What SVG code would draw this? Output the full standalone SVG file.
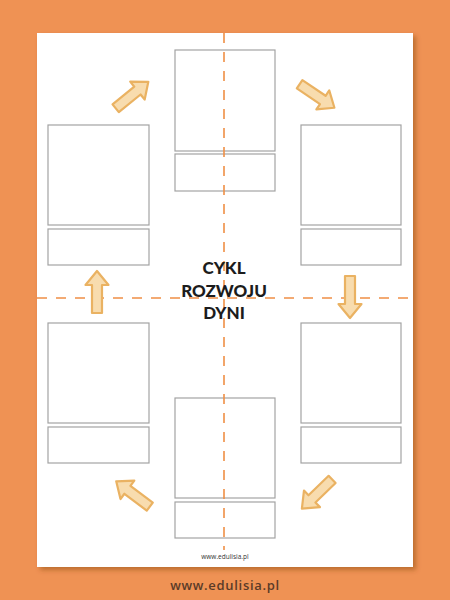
<svg xmlns="http://www.w3.org/2000/svg" width="450" height="600" viewBox="0 0 450 600">
  <defs>
    <filter id="sh" x="-10%" y="-10%" width="120%" height="120%">
      <feDropShadow dx="3" dy="3" stdDeviation="2.5" flood-color="#7a3f10" flood-opacity="0.45"/>
    </filter>
    <path id="arr" d="M0,-21 L11.5,-7 L5,-7 L5,21 L-5,21 L-5,-7 L-11.5,-7 Z"/>
  </defs>
  <style>
    .box{fill:#ffffff;stroke:#a3a3a3;stroke-width:1.2}
    .cut{fill:none;stroke:#ef8f45;stroke-width:1.6;stroke-dasharray:10 9}
    .arrow{fill:#f8dcae;stroke:#eab262;stroke-width:2.2;stroke-linejoin:round}
    .title{font-family:Lato,"Open Sans",sans-serif;font-weight:900;font-size:17px;fill:#1c1c1c;text-anchor:middle}
    .url{font-family:"Open Sans","Liberation Sans",sans-serif;text-anchor:middle}
  </style>
  <rect width="450" height="600" fill="#ef9254"/>
  <rect x="37" y="33" width="376" height="534" fill="#ffffff" filter="url(#sh)"/>

  <g id="step-top">
    <rect class="box" x="175" y="50" width="100" height="101"/>
    <rect class="box" x="175" y="154" width="100" height="37"/>
  </g>
  <g id="step-top-right">
    <rect class="box" x="301" y="125" width="100" height="100"/>
    <rect class="box" x="301" y="229" width="100" height="36"/>
  </g>
  <g id="step-bottom-right">
    <rect class="box" x="301" y="323" width="100" height="100"/>
    <rect class="box" x="301" y="427" width="100" height="36"/>
  </g>
  <g id="step-bottom">
    <rect class="box" x="175" y="398" width="100" height="100"/>
    <rect class="box" x="175" y="502" width="100" height="36"/>
  </g>
  <g id="step-bottom-left">
    <rect class="box" x="48" y="323" width="101" height="100"/>
    <rect class="box" x="48" y="427" width="101" height="36"/>
  </g>
  <g id="step-top-left">
    <rect class="box" x="48" y="125" width="101" height="100"/>
    <rect class="box" x="48" y="229" width="101" height="36"/>
  </g>

  <g id="cut-lines">
    <line class="cut" x1="224" y1="33" x2="224" y2="550"/>
    <line class="cut" x1="37" y1="298" x2="413" y2="298"/>
  </g>

  <g id="connectors">
    <use href="#arr" class="arrow" transform="translate(132,95) rotate(51)"/>
    <use href="#arr" class="arrow" transform="translate(317,96) rotate(124)"/>
    <use href="#arr" class="arrow" transform="translate(350,297) rotate(180)"/>
    <use href="#arr" class="arrow" transform="translate(317,494) rotate(-134)"/>
    <use href="#arr" class="arrow" transform="translate(133,494) rotate(-53)"/>
    <use href="#arr" class="arrow" transform="translate(97,292)"/>
  </g>

  <g id="title">
    <text class="title" x="224" y="274">CYKL</text>
    <text class="title" x="224" y="297">ROZWOJU</text>
    <text class="title" x="224" y="319">DYNI</text>
  </g>

  <text class="url" x="225" y="559" font-size="6.5" fill="#333333">www.edulisia.pl</text>
  <text class="url" x="225" y="590" font-size="13" font-weight="600" letter-spacing="0.7" fill="#5b3b28">www.edulisia.pl</text>
</svg>
